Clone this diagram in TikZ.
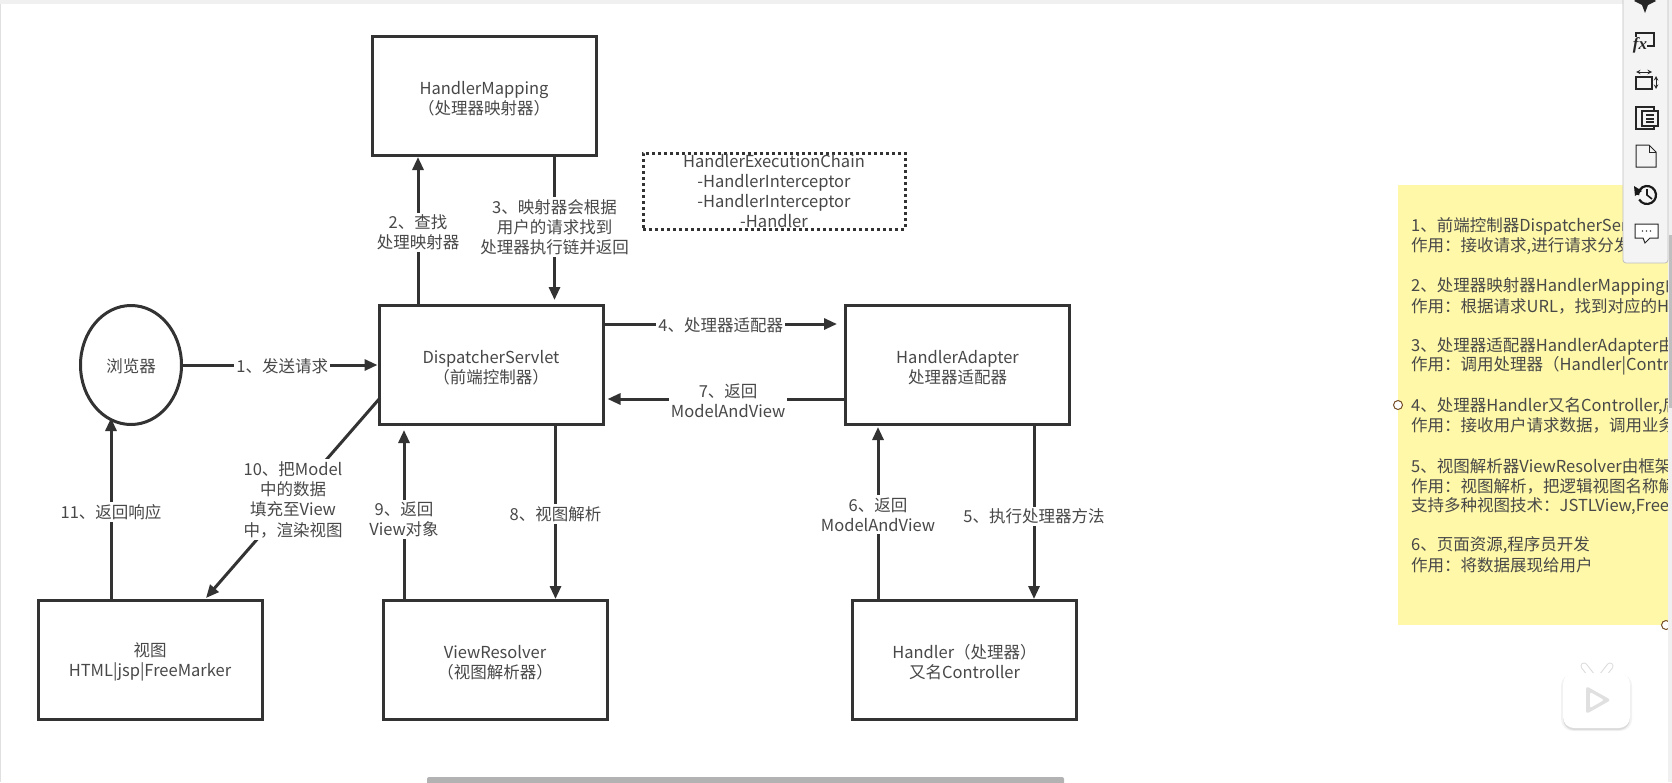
\documentclass[tikz,border=0pt]{standalone}
\usepackage{fontspec}
\setmainfont{Noto Sans CJK SC}
\newfontfamily\fxfont{Liberation Serif}
\usetikzlibrary{arrows.meta,shapes.geometric,calc}
\definecolor{ink}{HTML}{333333}
\definecolor{txt}{HTML}{484848}
\definecolor{note}{HTML}{FFF8A8}
\definecolor{panel}{HTML}{F4F4F4}
\newcommand{\lowr}{\rule{0pt}{18pt}}
\tikzset{
  every node/.style={font=\fontsize{16.5}{20.3}\selectfont,text=txt,align=center},
  boxn/.style={draw=ink,line width=3pt,rectangle,inner sep=0pt,minimum width=224pt,minimum height=119pt},
  arr/.style={draw=ink,line width=3pt,-{Triangle[length=13pt,width=11pt]}},
  lab/.style={fill=white,inner sep=2pt,yshift=-1.5pt},
  notetxt/.style={anchor=west,inner sep=0pt,align=left},
  icon/.style={draw=black!85,line width=1.4pt,fill=white},
}
\begin{document}
\begin{tikzpicture}[x=1pt,y=-1pt]
\useasboundingbox (0,0) rectangle (1672,782);
\fill[white] (0,0) rectangle (1672,782);
\fill[black!6] (0,0) rectangle (1672,4);
\fill[black!12] (0,4) rectangle (1,782);
% boxes
\node[boxn] (hm) at (484,96) {\lowr HandlerMapping\\（处理器映射器）};
\node[boxn] (ds) at (491,365) {\lowr DispatcherServlet\\（前端控制器）};
\node[boxn] (ha) at (957.5,365) {\lowr HandlerAdapter\\处理器适配器};
\node[boxn] (vw) at (150,660) {\lowr 视图\\HTML|jsp|FreeMarker};
\node[boxn] (vr) at (495,660) {\lowr ViewResolver\\（视图解析器）};
\node[boxn] (hd) at (964.5,660) {\lowr Handler（处理器）\\又名Controller};
\node[draw=ink,line width=3pt,ellipse,inner sep=0pt,minimum width=101pt,minimum height=119pt] (br) at (131,365) {\rule{0pt}{17pt}浏览器};
\node[draw=ink,line width=3pt,dash pattern=on 3pt off 3pt,rectangle,inner sep=0pt,minimum width=262pt,minimum height=76pt] (ch) at (774,191) {};
\node[inner sep=0pt] (chtxt) at (774,191) {HandlerExecutionChain\\-HandlerInterceptor\\-HandlerInterceptor\\-Handler};
% anchor columns and rows
\coordinate (c2) at (418,0);
\coordinate (c3) at (554.5,0);
\coordinate (c8) at (555.5,0);
\coordinate (c9) at (404,0);
\coordinate (c11) at (111,0);
\coordinate (c6) at (878,0);
\coordinate (c5) at (1034,0);
\coordinate (r4) at (0,324);
\coordinate (r7) at (0,399);
\coordinate (t3) at ($(ds.north -| c3)+(0,-4)$);
\coordinate (t4s) at (ds.east |- r4);
\coordinate (t4e) at ($(ha.west |- r4)+(-7,0)$);
\coordinate (t7e) at ($(ds.east |- r7)+(3,0)$);
\coordinate (t9) at ($(ds.south -| c9)+(0,4)$);
\coordinate (t2) at (hm.south -| c2);
\coordinate (t6) at ($(ha.south -| c6)+(0,1)$);
\coordinate (t11) at (c11 |- 0,418);
\coordinate (s10) at (380,398);
\coordinate (e10) at (206,598);
% connectors
\draw[arr] (br.east) -- node[lab,pos=.51] {1、发送请求} (ds.west);
\draw[arr] (ds.north -| c2) -- node[lab,pos=.497] {2、查找\\处理映射器} (t2);
\draw[arr] (hm.south -| c3) -- node[lab,pos=.48] {3、映射器会根据\\用户的请求找到\\处理器执行链并返回} (t3);
\draw[arr] (t4s) -- node[lab,pos=.5] {4、处理器适配器} (t4e);
\draw[arr] (ha.west |- r7) -- node[lab,pos=.49] {7、返回\\ModelAndView} (t7e);
\draw[arr] (ds.south -| c8) -- node[lab,pos=.5] {8、视图解析} (vr.north -| c8);
\draw[arr] (vr.north -| c9) -- node[lab,pos=.48] {9、返回\\View对象} (t9);
\draw[arr] (s10) -- node[lab,pos=.5] {10、把Model\\中的数据\\填充至View\\中，渲染视图} (e10);
\draw[arr] (vw.north -| c11) -- node[lab,pos=.49] {11、返回响应} (t11);
\draw[arr] (hd.north -| c6) -- node[lab,pos=.5] {6、返回\\ModelAndView} (t6);
\draw[arr] (ha.south -| c5) -- node[lab,pos=.515] {5、执行处理器方法} (hd.north -| c5);
% yellow note
\fill[note] (1398,185) rectangle (1668,625);
\begin{scope}
\clip (1398,185) rectangle (1668,625);
\node[notetxt] (n1) at (1411,226) {1、前端控制器DispatcherServlet};
\node[notetxt] (n2) at (1411,246) {作用：接收请求,进行请求分发};
\node[notetxt] (n3) at (1411,286.5) {2、处理器映射器HandlerMapping由};
\node[notetxt] (n4) at (1411,306) {作用：根据请求URL，找到对应的Handler};
\node[notetxt] (n5) at (1411,346) {3、处理器适配器HandlerAdapter由};
\node[notetxt] (n6) at (1411,365.5) {作用：调用处理器（Handler|Controller};
\node[notetxt] (n7) at (1411,406) {4、处理器Handler又名Controller,后};
\node[notetxt] (n8) at (1411,425.5) {作用：接收用户请求数据，调用业务};
\node[notetxt] (n9) at (1411,466) {5、视图解析器ViewResolver由框架};
\node[notetxt] (n10) at (1411,486) {作用：视图解析，把逻辑视图名称解};
\node[notetxt] (n11) at (1411,506) {支持多种视图技术：JSTLView,FreeMarker};
\node[notetxt] (n12) at (1411,545) {6、页面资源,程序员开发};
\node[notetxt] (n13) at (1411,565) {作用：将数据展现给用户};
\end{scope}
\draw[draw=brown!60!black,fill=white,line width=1pt] (1398,405) circle (4.5);
\draw[draw=brown!60!black,fill=white,line width=1pt] (1666,625) circle (4.5);
% scrollbars
\fill[black!6] (1668,4) rectangle (1672,782);
\fill[black!25] (1669,235) rectangle (1672,408);
\fill[black!30,rounded corners=2pt] (427,777) rectangle (1064,785);
% toolbar
\draw[black!25,fill=panel,rounded corners=3pt,line width=.8pt] (1623,-6) rectangle (1668,263);
\fill[black!85] (1645,13) -- (1648,5) -- (1656,1) -- (1650,-3) -- (1640,-3) -- (1634,1) -- (1642,5) -- cycle;
\draw[icon,fill=none] (1636,33) rectangle (1654,46);
\node[font=\fxfont\itshape\bfseries\fontsize{17}{17}\selectfont,text=black!85,inner sep=0pt,fill=panel] at (1640,45) {fx};
\draw[icon,fill=none] (1636,77) rectangle (1652,89);
\draw[black!85,line width=1pt,<->,>=stealth] (1636,72) -- (1652,72);
\draw[black!85,line width=1pt,<->,>=stealth] (1656,76) -- (1656,89);
\draw[icon,fill=none] (1636,107) rectangle (1654,129);
\draw[icon,fill=panel] (1642,111) rectangle (1658,126);
\draw[black!85,line width=1.2pt] (1646,115) -- (1654,115) (1646,119) -- (1654,119) (1646,122) -- (1654,122);
\draw[icon,fill=none,line width=1pt] (1636,145) -- (1649,145) -- (1656,152) -- (1656,167) -- (1636,167) -- cycle;
\draw[icon,fill=none,line width=1pt] (1649,145) -- (1649,152) -- (1656,152);
\draw[black!90,line width=2.2pt] (1647,195) ++(150:9) arc (150:-180:9);
\fill[black!90] (1634,186) -- (1642,191) -- (1635,196) -- cycle;
\draw[black!90,line width=1.6pt] (1647,189) -- (1647,195) -- (1652,199);
\draw[icon,fill=white,line width=1pt] (1635,224) -- (1658,224) -- (1658,238) -- (1650,238) -- (1645,243) -- (1643,238) -- (1635,238) -- cycle;
\foreach \i in {-4,0,4}{\fill[black!70] (1646.5+\i,231) circle (.8);}
% video logo
\draw[black!14,line width=7pt,line cap=round] (1584,666) -- (1591,675) (1610,666) -- (1603,675);
\fill[black!5,rounded corners=12pt] (1561,674) rectangle (1632,731);
\fill[black!14,rounded corners=11pt] (1563,675) rectangle (1630,730);
\draw[white,line width=5pt,line cap=round] (1584,666) -- (1591,675) (1610,666) -- (1603,675);
\fill[white,rounded corners=11pt] (1563,673) rectangle (1630,728);
\fill[black!12,rounded corners=3pt] (1586,686) -- (1611,700) -- (1586,714) -- cycle;
\fill[white,rounded corners=2pt] (1590,692) -- (1604,700) -- (1590,708) -- cycle;
\end{tikzpicture}
\end{document}
